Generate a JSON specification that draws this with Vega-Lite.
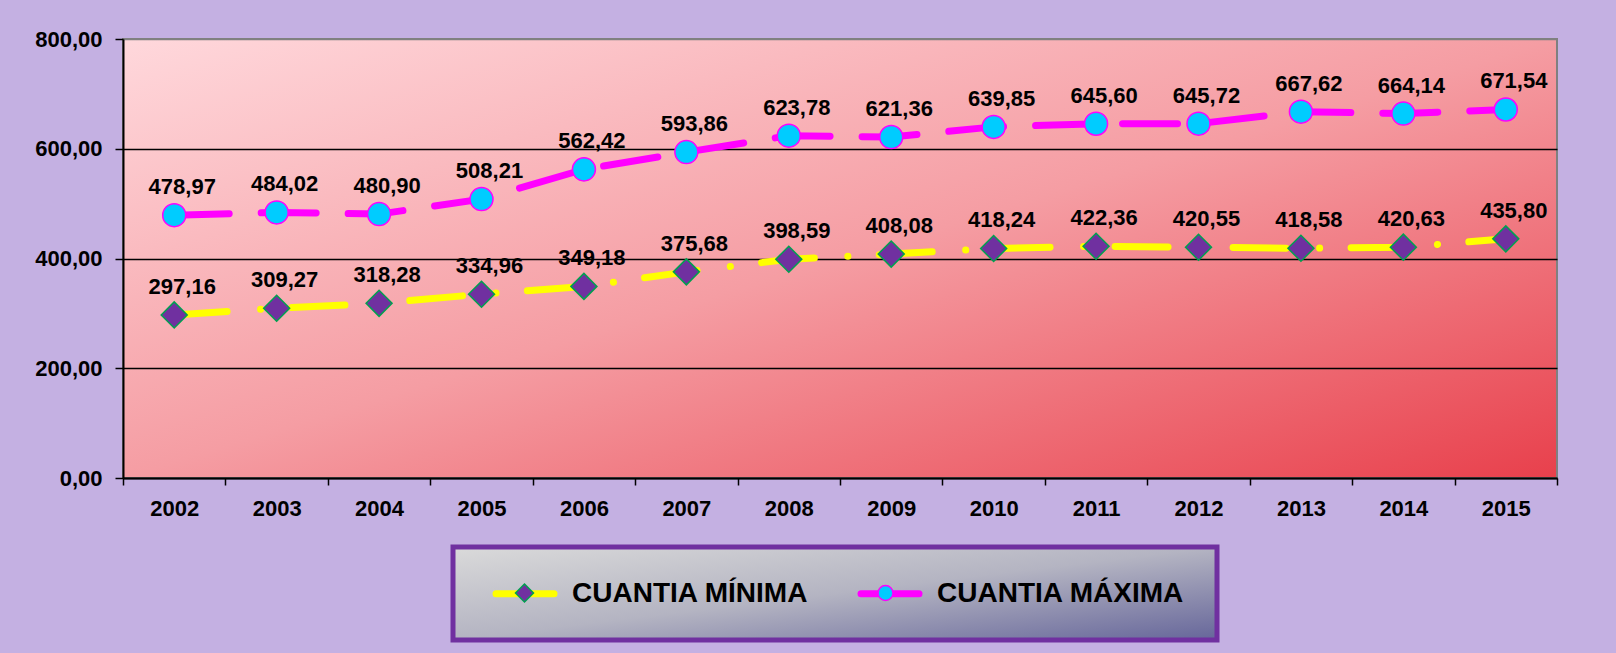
{
  "$schema": "https://vega.github.io/schema/vega-lite/v6.json",
  "width": 1434,
  "height": 439,
  "autosize": {"type": "none"},
  "padding": {"left": 123, "top": 39, "right": 59, "bottom": 175},
  "background": "#c4b0e2",
  "view": {
    "fill": {"gradient": "linear", "x1": 0, "y1": 0, "x2": 1, "y2": 1,
      "stops": [{"offset": 0, "color": "#ffd8dc"}, {"offset": 0.5, "color": "#f59da3"}, {"offset": 1, "color": "#e8404c"}]},
    "stroke": "#808080",
    "strokeWidth": 2
  },
  "config": {
    "locale": {"number": {"decimal": ",", "thousands": ".", "grouping": [3], "currency": ["", " €"]}},
    "font": "Liberation Sans"
  },
  "data": {
    "values": [
      {"anio": "2002", "CUANTIA MÍNIMA": 297.16, "CUANTIA MÁXIMA": 478.97},
      {"anio": "2003", "CUANTIA MÍNIMA": 309.27, "CUANTIA MÁXIMA": 484.02},
      {"anio": "2004", "CUANTIA MÍNIMA": 318.28, "CUANTIA MÁXIMA": 480.90},
      {"anio": "2005", "CUANTIA MÍNIMA": 334.96, "CUANTIA MÁXIMA": 508.21},
      {"anio": "2006", "CUANTIA MÍNIMA": 349.18, "CUANTIA MÁXIMA": 562.42},
      {"anio": "2007", "CUANTIA MÍNIMA": 375.68, "CUANTIA MÁXIMA": 593.86},
      {"anio": "2008", "CUANTIA MÍNIMA": 398.59, "CUANTIA MÁXIMA": 623.78},
      {"anio": "2009", "CUANTIA MÍNIMA": 408.08, "CUANTIA MÁXIMA": 621.36},
      {"anio": "2010", "CUANTIA MÍNIMA": 418.24, "CUANTIA MÁXIMA": 639.85},
      {"anio": "2011", "CUANTIA MÍNIMA": 422.36, "CUANTIA MÁXIMA": 645.60},
      {"anio": "2012", "CUANTIA MÍNIMA": 420.55, "CUANTIA MÁXIMA": 645.72},
      {"anio": "2013", "CUANTIA MÍNIMA": 418.58, "CUANTIA MÁXIMA": 667.62},
      {"anio": "2014", "CUANTIA MÍNIMA": 420.63, "CUANTIA MÁXIMA": 664.14},
      {"anio": "2015", "CUANTIA MÍNIMA": 435.80, "CUANTIA MÁXIMA": 671.54}
    ]
  },
  "encoding": {
    "x": {
      "field": "anio", "type": "ordinal",
      "scale": {"paddingInner": 0, "paddingOuter": 0},
      "axis": {
        "title": null, "labelAngle": 0, "tickBand": "extent", "tickSize": 7, "tickColor": "#000000", "tickWidth": 1.5,
        "domainColor": "#000000", "domainWidth": 2, "labelFont": "Liberation Sans", "labelFontSize": 22,
        "labelFontWeight": "bold", "labelColor": "#000000", "labelBaseline": "middle", "labelPadding": 23, "grid": false
      }
    },
    "y": {
      "field": "valor", "type": "quantitative",
      "scale": {"domain": [0, 800], "nice": false},
      "axis": {
        "title": null, "values": [0, 200, 400, 600, 800], "format": ".2f", "tickSize": 8, "tickColor": "#000000",
        "tickWidth": 1.5, "domainColor": "#000000", "domainWidth": 2, "labelFont": "Liberation Sans", "labelFontSize": 22,
        "labelFontWeight": "bold", "labelColor": "#000000", "labelPadding": 13, "grid": true,
        "gridColor": {"condition": {"test": "datum.value == 800", "value": "#808080"}, "value": "#000000"},
        "gridWidth": 1.5, "gridOpacity": 1
      }
    }
  },
  "layer": [
    {
      "transform": [{"fold": ["CUANTIA MÍNIMA", "CUANTIA MÁXIMA"], "as": ["serie", "valor"]}],
      "mark": {"type": "line", "strokeWidth": 7, "strokeCap": "round"},
      "encoding": {
        "color": {
          "field": "serie", "type": "nominal",
          "scale": {"domain": ["CUANTIA MÍNIMA", "CUANTIA MÁXIMA"], "range": ["#ffff00", "#ff00ff"]},
          "legend": {
            "title": null, "orient": "none", "legendX": 330, "legendY": 508, "direction": "horizontal", "zindex": 1,
            "symbolType": "M-0.318,0L4.955,0", "symbolSize": 484, "symbolStrokeWidth": 7, "labelFont": "Liberation Sans",
            "labelFontSize": 28, "labelFontWeight": "bold", "labelColor": "#000000", "labelOffset": 58,
            "columnPadding": 38, "padding": 32, "labelLimit": 400,
            "encode": {
              "legend": {"update": {
                "fill": {"value": {"gradient": "linear", "x1": 0, "y1": 0, "x2": 1, "y2": 1,
                  "stops": [{"offset": 0, "color": "#dadada"}, {"offset": 0.5, "color": "#b4b4c2"}, {"offset": 1, "color": "#66669a"}]}},
                "stroke": {"value": "#7030a0"},
                "strokeWidth": {"value": 5}
              }},
              "symbols": {"update": {
                "shape": {"value": "M-0.318,0L4.955,0"},
                "fill": {"value": "transparent"},
                "strokeWidth": {"value": 7},
                "strokeCap": {"value": "round"},
                "strokeDash": {"value": []}
              }}
            }
          }
        },
        "strokeDash": {
          "field": "serie", "type": "nominal",
          "scale": {"domain": ["CUANTIA MÁXIMA", "CUANTIA MÍNIMA"], "range": [[55, 32], [53, 33.5, 0.1, 31.4]]},
          "legend": null
        }
      }
    },
    {
      "transform": [{"fold": ["CUANTIA MÍNIMA", "CUANTIA MÁXIMA"], "as": ["serie_p", "valor"]}],
      "mark": {"type": "point", "filled": true, "opacity": 1, "size": 676, "strokeWidth": 1.5},
      "encoding": {
        "fill": {
          "field": "serie_p", "type": "nominal",
          "sort": ["CUANTIA MÍNIMA", "CUANTIA MÁXIMA"],
          "scale": {"range": ["#7030a0", "#00ccff"]},
          "legend": {
            "title": null, "orient": "none", "legendX": 330, "legendY": 508, "direction": "horizontal", "zindex": 3,
            "symbolSize": 484, "symbolStrokeWidth": 7, "labelFont": "Liberation Sans",
            "labelFontSize": 28, "labelFontWeight": "bold", "labelOpacity": 0, "labelOffset": 58,
            "columnPadding": 38, "padding": 32, "labelLimit": 400, "symbolOpacity": 1,
            "encode": {"symbols": {"update": {
              "strokeWidth": {"value": 1.5},
              "stroke": {"signal": "datum.value === 'CUANTIA MÍNIMA' ? '#00a050' : '#ff00ff'"},
              "shape": {"signal": "datum.value === 'CUANTIA MÍNIMA' ? 'M-0.568,0L-0.568,0M1.5,0L2.318,-0.818L3.136,0L2.318,0.818Z' : 'M-0.568,0L-0.568,0M3,0A0.682,0.682,0,1,1,1.636,0A0.682,0.682,0,1,1,3,0Z'"}
            }}}
          }
        },
        "stroke": {
          "field": "serie_p", "type": "nominal",
          "scale": {"domain": ["CUANTIA MÁXIMA", "CUANTIA MÍNIMA"], "range": ["#ff00ff", "#00a050"]},
          "legend": null
        },
        "shape": {
          "field": "serie_p", "type": "nominal",
          "scale": {"domain": ["CUANTIA MÁXIMA", "CUANTIA MÍNIMA"], "range": ["M0.885,0A0.885,0.885,0,1,1,-0.885,0A0.885,0.885,0,1,1,0.885,0Z", "diamond"]},
          "legend": null
        }
      }
    },
    {
      "transform": [{"fold": ["CUANTIA MÍNIMA", "CUANTIA MÁXIMA"], "as": ["serie", "valor"]}],
      "mark": {"type": "text", "font": "Liberation Sans", "fontSize": 22, "fontWeight": "bold", "color": "#000000",
        "dx": 8, "dy": -21, "baseline": "alphabetic", "align": "center"},
      "encoding": {
        "text": {"field": "valor", "type": "quantitative", "format": ".2f"}
      }
    }
  ]
}
